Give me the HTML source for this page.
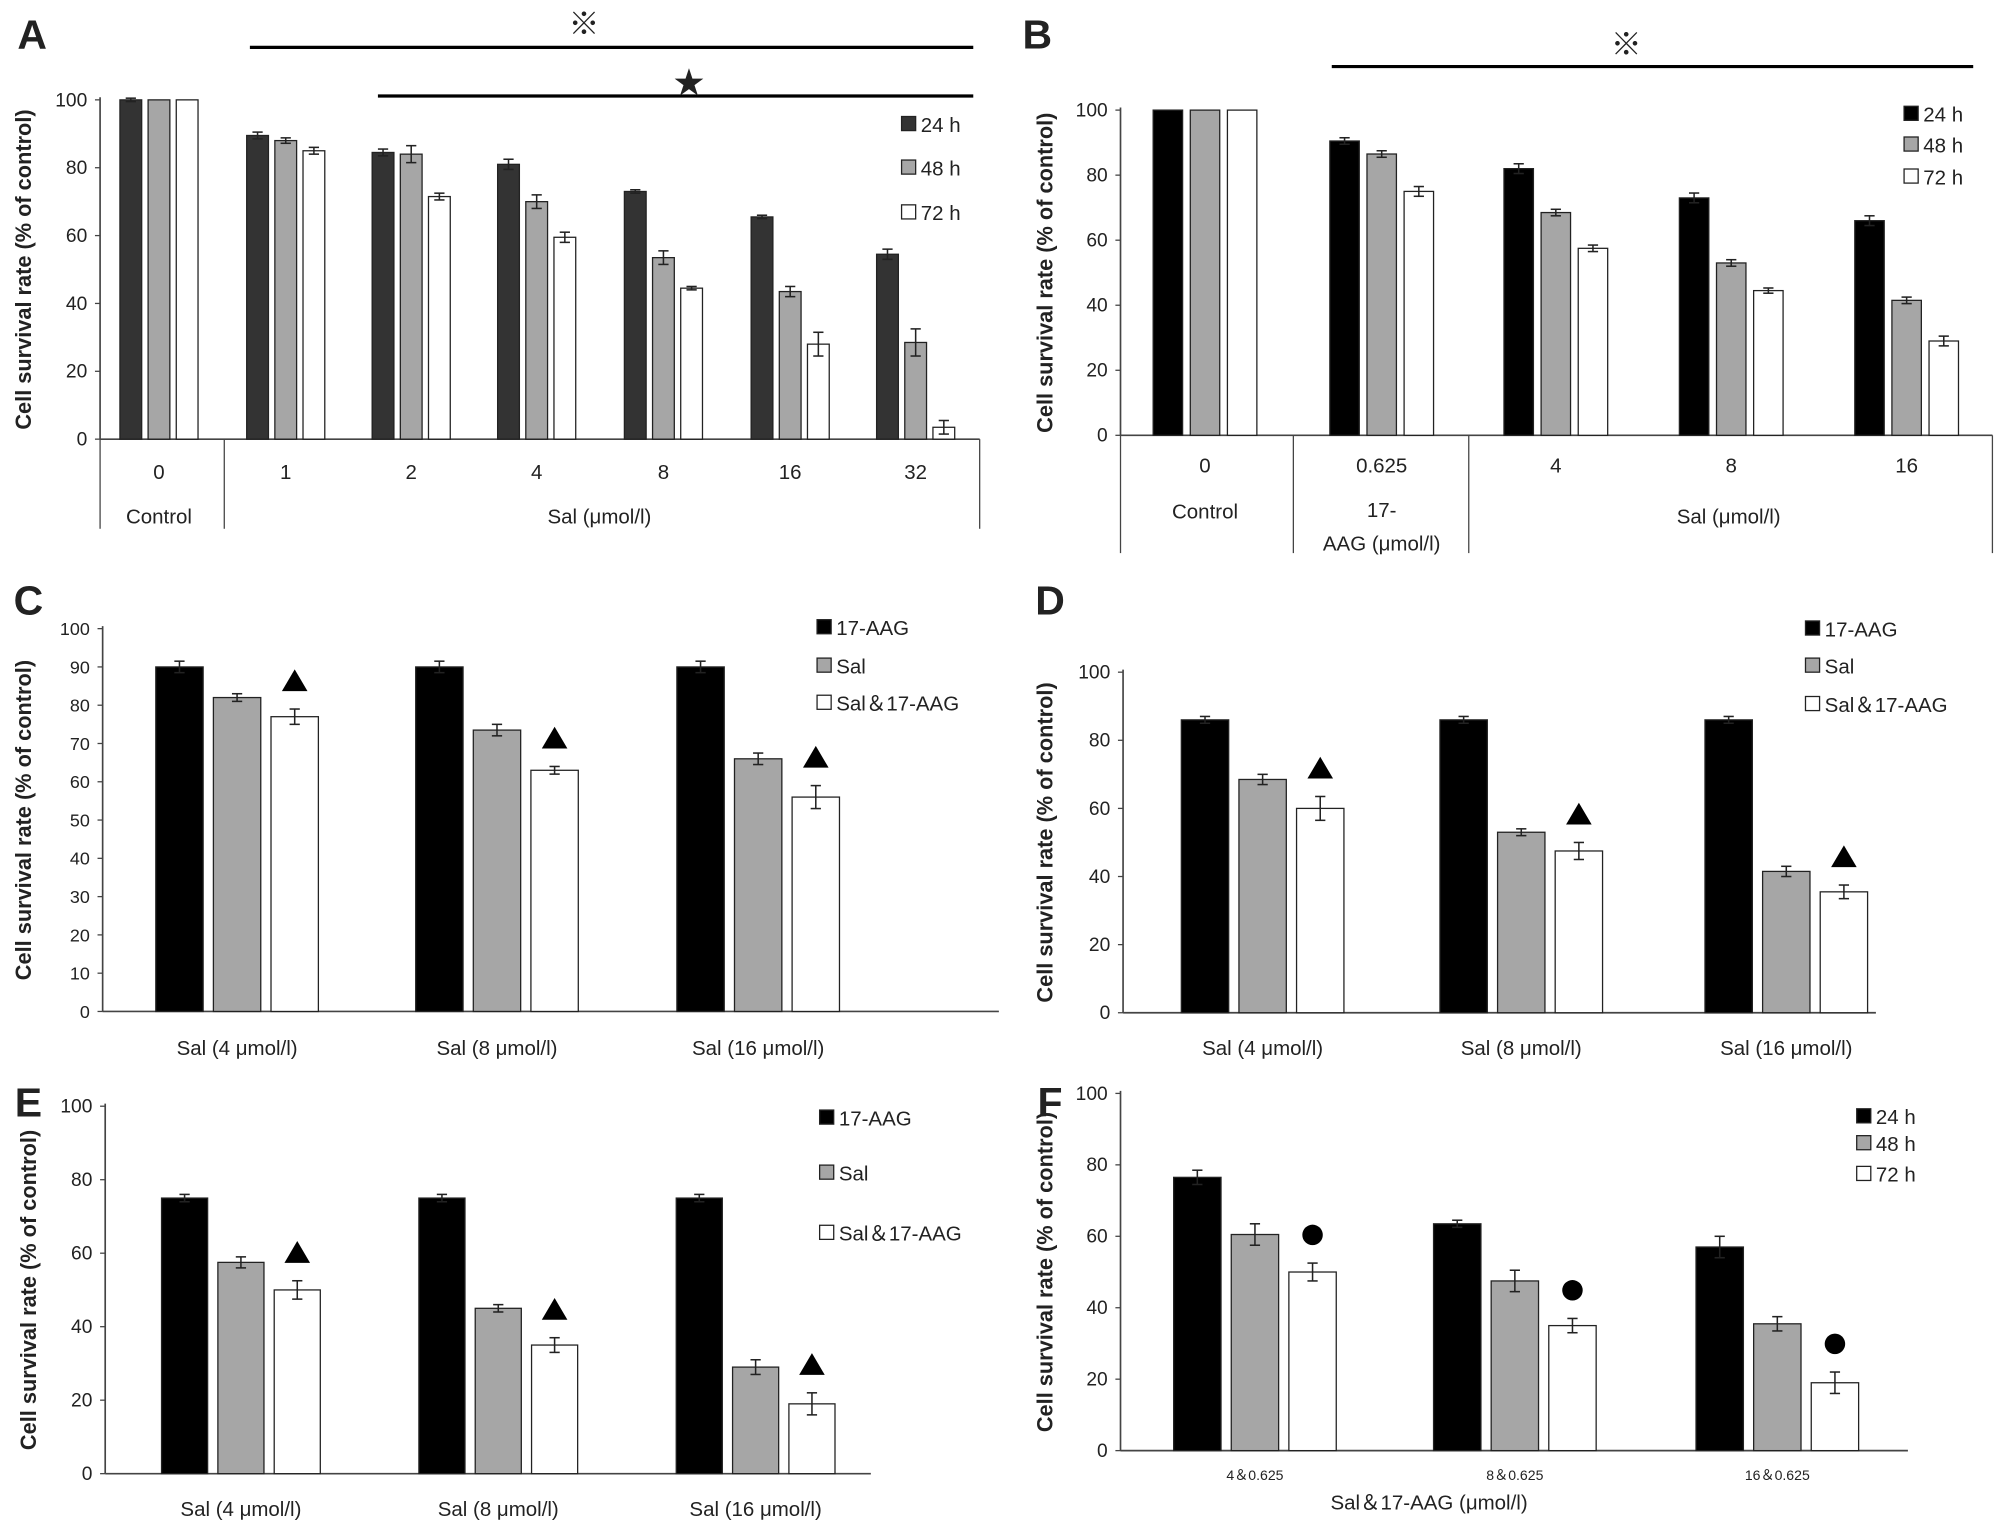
<!DOCTYPE html>
<html><head><meta charset="utf-8"><style>
html,body{margin:0;padding:0;background:#fff}
svg{display:block}
text{font-family:"Liberation Sans","Noto Sans CJK JP",sans-serif;fill:#222}
</style></head><body>
<svg id="fig" width="2008" height="1530" viewBox="0 0 1568 1195" xmlns="http://www.w3.org/2000/svg">
<rect width="1568" height="1195" fill="#fff"/>
</svg>
<script>
// ---- data ----
const catsA = ["0","1","2","4","8","16","32"];
const a24 = [100,89.5,84.5,81,73,65.5,54.5];
const a48 = [100,88,84,70,53.5,43.5,28.5];
const a72 = [100,85,71.5,59.5,44.5,28,3.5];
const a24e = [0.5,1,1,1.5,0.5,0.5,1.5];
const a48e = [0,0.8,2.5,2,2,1.5,4];
const a72e = [0,1,1,1.5,0.5,3.5,2];
const catsB = ["0","0.625","4","8","16"];
const b24 = [100,90.5,82,73,66];
const b48 = [100,86.5,68.5,53,41.5];
const b72 = [100,75,57.5,44.5,29];
const b24e = [0,1,1.5,1.5,1.5];
const b48e = [0,1,1,1,1];
const b72e = [0,1.5,1,0.8,1.5];
const catsCDE = ["Sal (4 μmol/l)","Sal (8 μmol/l)","Sal (16 μmol/l)"];
const cAAG = [90,90,90], cSal = [82,73.5,66], cCombo = [77,63,56];
const cAAGe = [1.5,1.5,1.5], cSale = [1,1.5,1.5], cComboe = [2,1,3];
const dAAG = [86,86,86], dSal = [68.5,53,41.5], dCombo = [60,47.5,35.5];
const dAAGe = [1,1,1], dSale = [1.5,1,1.5], dComboe = [3.5,2.5,2];
const eAAG = [75,75,75], eSal = [57.5,45,29], eCombo = [50,35,19];
const eAAGe = [1,1,1], eSale = [1.5,1,2], eComboe = [2.5,2,3];
const catsF = ["4＆0.625","8＆0.625","16＆0.625"];
const f24 = [76.5,63.5,57], f48 = [60.5,47.5,35.5], f72 = [50,35,19];
const f24e = [2,1,3], f48e = [3,3,2], f72e = [2.5,2,3];
const ticks20 = [0,20,40,60,80,100];
const ticks10 = [0,10,20,30,40,50,60,70,80,90,100];

const svg = document.getElementById('fig');
const NS = 'http://www.w3.org/2000/svg';
function mk(tag, attrs, parent){const e=document.createElementNS(NS,tag);for(const k in attrs)e.setAttribute(k,attrs[k]);(parent||svg).appendChild(e);return e;}
function txt(x,y,s,size,anchor,weight,parent){const t=mk('text',{x:x,y:y,'font-size':size,'text-anchor':anchor||'middle','font-weight':weight||'normal'},parent);t.textContent=s;return t;}

function panel(p){
  const g=mk('g',{});
  
  
  const ys=v=>p.y0-(v/100)*(p.y0-p.y100);
  const lbl=txt(p.lx,p.ly,p.letter,32,'middle','bold',g);
  
  
  const yt=txt(0,0,'Cell survival rate (% of control)',p.ytSize||17,'middle','bold',g);
  yt.setAttribute('transform','translate('+p.ytx+','+((p.y0+p.y100)/2)+') rotate(-90)');
  
  
  mk('line',{x1:p.x0,y1:p.y100-2,x2:p.x0,y2:p.y0,stroke:'#444','stroke-width':1.3},g);
  mk('line',{x1:p.x0,y1:p.y0,x2:p.xEnd,y2:p.y0,stroke:'#444','stroke-width':1.3},g);
  p.ticks.forEach(t=>{
    mk('line',{x1:p.x0-4,y1:ys(t),x2:p.x0,y2:ys(t),stroke:'#444'},g);
    const tl=txt(p.x0-10,ys(t)+5,String(t),p.tickSize||15,'end','normal',g);
    
    
  });
  p.series.forEach((s,si)=>{
    s.vals.forEach((v,i)=>{
      const cx=p.centers[i]+p.offs[si];
      const r=mk('rect',{x:cx-p.bw/2,y:ys(v),width:p.bw,height:p.y0-ys(v),fill:s.fill,stroke:'#222','stroke-width':1},g);
      
      
      const e=s.err[i];
      if(e>0){
        mk('line',{x1:cx,y1:ys(v+e),x2:cx,y2:ys(v-e),stroke:'#222','stroke-width':1.2},g);
        mk('line',{x1:cx-4,y1:ys(v+e),x2:cx+4,y2:ys(v+e),stroke:'#222','stroke-width':1.2},g);
        mk('line',{x1:cx-4,y1:ys(v-e),x2:cx+4,y2:ys(v-e),stroke:'#222','stroke-width':1.2},g);
      }
      if(s.mark){
        const my=ys(v+e)-22, mx=cx+(p.markDx||0);
        let m;
        if(s.mark==='tri') m=mk('polygon',{points:(mx-10)+','+(my+8)+' '+(mx+10)+','+(my+8)+' '+mx+','+(my-9),fill:'#000'},g);
        else m=mk('circle',{cx:mx,cy:my,r:8,fill:'#000'},g);
        
        
      }
    });
  });
  p.cats.forEach((c,i)=>{
    const t=txt(p.centers[i],p.catY,c,p.catSize||16,'middle','normal',g);
    
    
  });
  p.legend.forEach((l,i)=>{
    const y=p.legY[i];
    const sq=mk('rect',{x:p.legX,y:y-13,width:11,height:11,fill:l.fill,stroke:'#222'},g);
    
    
    const t=txt(p.legX+15,y-1,l.label,16,'start','normal',g);
    
    
  });
  return g;
}
const DK='#333', GR='#a6a6a6', WH='#fff', BK='#000';

// Panel A
const gA=panel({name:'panel-a',letter:'A',lx:25,ly:38,x0:78,xEnd:765,y0:343,y100:78,ytx:24,ticks:ticks20,
  centers:[124,223,321,419,518,617,715],offs:[-22,0,22],bw:17,cats:catsA,catY:374,
  series:[{key:'24h',vals:a24,err:a24e,fill:DK},{key:'48h',vals:a48,err:a48e,fill:GR},{key:'72h',vals:a72,err:a72e,fill:WH}],
  legend:[{fill:DK,label:'24 h'},{fill:GR,label:'48 h'},{fill:WH,label:'72 h'}],legX:704,legY:[104,138,173]});
[[78,343,78,413],[175,343,175,413],[765,343,765,413]].forEach(l=>mk('line',{x1:l[0],y1:l[1],x2:l[2],y2:l[3],stroke:'#444'},gA));
txt(124,409,'Control',16,'middle','normal',gA);
txt(468,409,'Sal (μmol/l)',16,'middle','normal',gA);
mk('line',{x1:195,y1:37,x2:760,y2:37,stroke:'#000','stroke-width':2.5},gA);
mk('line',{x1:295,y1:75,x2:760,y2:75,stroke:'#000','stroke-width':2.5},gA);
txt(456,27,'※',24,'middle','normal',gA);
txt(538,73,'★',24,'middle','normal',gA);

// Panel B
const gB=panel({name:'panel-b',letter:'B',lx:810,ly:38,x0:875,xEnd:1556,y0:340,y100:86,ytx:822,ticks:ticks20,
  centers:[941,1079,1215,1352,1489],offs:[-29,0,29],bw:23,cats:catsB,catY:369,
  series:[{key:'24h',vals:b24,err:b24e,fill:BK},{key:'48h',vals:b48,err:b48e,fill:GR},{key:'72h',vals:b72,err:b72e,fill:WH}],
  legend:[{fill:BK,label:'24 h'},{fill:GR,label:'48 h'},{fill:WH,label:'72 h'}],legX:1487,legY:[96,120,145]});
[[875,340,875,432],[1010,340,1010,432],[1147,340,1147,432],[1556,340,1556,432]].forEach(l=>mk('line',{x1:l[0],y1:l[1],x2:l[2],y2:l[3],stroke:'#444'},gB));
txt(941,405,'Control',16,'middle','normal',gB);
txt(1079,404,'17-',16,'middle','normal',gB);
txt(1079,430,'AAG (μmol/l)',16,'middle','normal',gB);
txt(1350,409,'Sal (μmol/l)',16,'middle','normal',gB);
mk('line',{x1:1040,y1:52,x2:1541,y2:52,stroke:'#000','stroke-width':2.5},gB);
txt(1270,43,'※',24,'middle','normal',gB);

// Panel C
panel({name:'panel-c',letter:'C',lx:22,ly:480,x0:80,xEnd:780,y0:790,y100:491,ytx:24,ticks:ticks10,tickSize:14,
  centers:[185,388,592],offs:[-45,0,45],bw:37,cats:catsCDE,catY:824,
  series:[{key:'17aag',vals:cAAG,err:cAAGe,fill:BK},{key:'sal',vals:cSal,err:cSale,fill:GR},{key:'combo',vals:cCombo,err:cComboe,fill:WH,mark:'tri'}],
  legend:[{fill:BK,label:'17-AAG'},{fill:GR,label:'Sal'},{fill:WH,label:'Sal＆17-AAG'}],legX:638,legY:[497,527,556]});

// Panel D
panel({name:'panel-d',letter:'D',lx:820,ly:480,x0:877,xEnd:1465,y0:791,y100:525,ytx:822,ticks:ticks20,
  centers:[986,1188,1395],offs:[-45,0,45],bw:37,cats:catsCDE,catY:824,
  series:[{key:'17aag',vals:dAAG,err:dAAGe,fill:BK},{key:'sal',vals:dSal,err:dSale,fill:GR},{key:'combo',vals:dCombo,err:dComboe,fill:WH,mark:'tri'}],
  legend:[{fill:BK,label:'17-AAG'},{fill:GR,label:'Sal'},{fill:WH,label:'Sal＆17-AAG'}],legX:1410,legY:[498,527,557]});

// Panel E
panel({name:'panel-e',letter:'E',lx:22,ly:872,x0:82,xEnd:680,y0:1151,y100:864,ytx:28,ticks:ticks20,
  centers:[188,389,590],offs:[-44,0,44],bw:36,cats:catsCDE,catY:1184,
  series:[{key:'17aag',vals:eAAG,err:eAAGe,fill:BK},{key:'sal',vals:eSal,err:eSale,fill:GR},{key:'combo',vals:eCombo,err:eComboe,fill:WH,mark:'tri'}],
  legend:[{fill:BK,label:'17-AAG'},{fill:GR,label:'Sal'},{fill:WH,label:'Sal＆17-AAG'}],legX:640,legY:[880,923,970]});

// Panel F
const gF=panel({name:'panel-f',letter:'F',lx:820,ly:872,x0:875,xEnd:1490,y0:1133,y100:854,ytx:822,ticks:ticks20,
  centers:[980,1183,1388],offs:[-45,0,45],bw:37,cats:catsF,catY:1156,catSize:11,
  series:[{key:'24h',vals:f24,err:f24e,fill:BK},{key:'48h',vals:f48,err:f48e,fill:GR},{key:'72h',vals:f72,err:f72e,fill:WH,mark:'dot'}],
  legend:[{fill:BK,label:'24 h'},{fill:GR,label:'48 h'},{fill:WH,label:'72 h'}],legX:1450,legY:[879,900,924]});
const xt=txt(1116,1179,'Sal＆17-AAG (μmol/l)',16,'middle','normal',gF);


</script>
</body></html>
